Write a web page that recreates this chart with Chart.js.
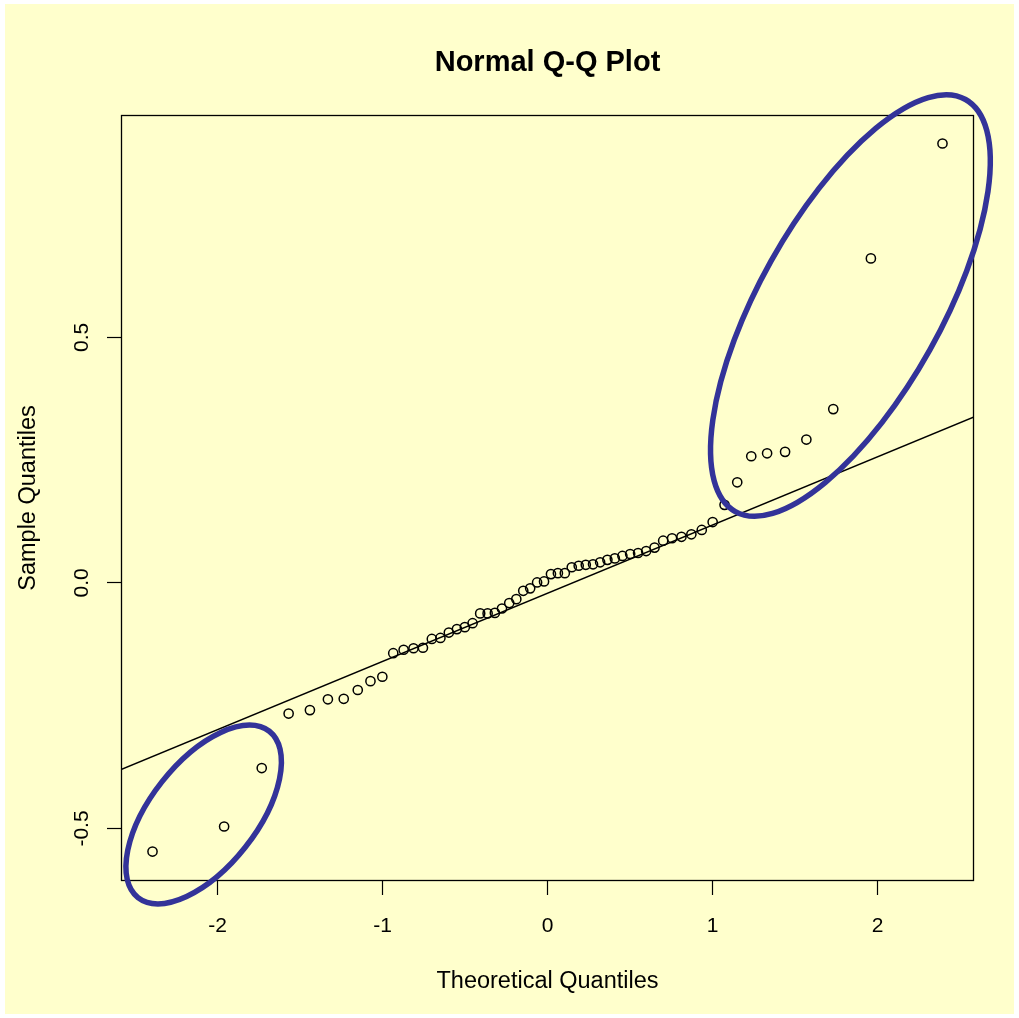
<!DOCTYPE html>
<html><head><meta charset="utf-8">
<script src="https://cdn.jsdelivr.net/npm/chart.js@4.4.1/dist/chart.umd.min.js"></script>
<style>html,body{margin:0;padding:0;background:#fff;}canvas{display:block;}</style>
</head><body>
<canvas id="c" width="1019" height="1018"></canvas>
<script>
// ---- data ----
const theoreticalQuantiles = [-2.394,-1.960,-1.732,-1.569,-1.440,-1.331,-1.235,-1.150,-1.073,-1.001,
  -0.935,-0.872,-0.812,-0.755,-0.701,-0.649,-0.598,-0.549,-0.501,-0.454,
  -0.408,-0.363,-0.319,-0.276,-0.232,-0.189,-0.147,-0.105,-0.063,-0.021,
  0.021,0.063,0.105,0.147,0.189,0.232,0.276,0.319,0.363,0.408,
  0.454,0.501,0.549,0.598,0.649,0.701,0.755,0.812,0.872,0.935,
  1.001,1.073,1.150,1.235,1.331,1.440,1.569,1.732,1.960,2.394];
const sampleQuantiles = [-0.547,-0.496,-0.377,-0.266,-0.259,-0.237,-0.236,-0.218,-0.200,-0.191,
  -0.143,-0.136,-0.133,-0.132,-0.114,-0.112,-0.101,-0.094,-0.090,-0.082,
  -0.062,-0.062,-0.061,-0.052,-0.041,-0.033,-0.016,-0.011,0.001,0.003,
  0.018,0.020,0.020,0.032,0.035,0.037,0.038,0.042,0.047,0.050,
  0.055,0.059,0.061,0.065,0.072,0.086,0.091,0.094,0.099,0.108,
  0.124,0.159,0.205,0.258,0.264,0.267,0.292,0.354,0.661,0.895];
const qqLineX = [-2.585, 2.585];
const qqLineY = [-0.380, 0.338];
const xTickValues = [-2, -1, 0, 1, 2];
const xTickLabels = ['-2', '-1', '0', '1', '2'];
const yTickValues = [-0.5, 0, 0.5];
const yTickLabels = ['-0.5', '0.0', '0.5'];
const xRange = [-2.585, 2.585];
const yRange = [-0.607, 0.953];
const chartTitle = 'Normal Q-Q Plot';
const xTitle = 'Theoretical Quantiles';
const yTitle = 'Sample Quantiles';

// ---- plugins ----
const FONT = 'Liberation Sans';
const bgPlugin = {
  id: 'bg',
  beforeDraw(chart) {
    const c = chart.ctx; c.save();
    c.fillStyle = '#ffffff'; c.fillRect(0, 0, chart.width, chart.height);
    c.fillStyle = '#FFFFCC'; c.fillRect(5, 4, 1009, 1010);
    c.restore();
  }
};
const boxPlugin = {
  id: 'box',
  beforeDatasetsDraw(chart) {
    const {left, top, right, bottom} = chart.chartArea;
    const c = chart.ctx; c.save();
    c.strokeStyle = '#000'; c.lineWidth = 1.3;
    c.strokeRect(left + 0.5, top + 0.5, right - left - 1, bottom - top - 1);
    c.restore();
  }
};
const ellipsePlugin = {
  id: 'ellipses',
  afterDraw(chart, args, opts) {
    const c = chart.ctx, xs = chart.scales.x, ys = chart.scales.y;
    c.save();
    c.strokeStyle = opts.color; c.lineWidth = opts.width;
    for (const e of opts.items) {
      c.beginPath();
      c.ellipse(xs.getPixelForValue(e.cx), ys.getPixelForValue(e.cy), e.rx, e.ry, e.angle * Math.PI / 180, 0, Math.PI * 2);
      c.stroke();
    }
    c.restore();
  }
};

const tickFont = {family: FONT, size: 21};
const labFont = {family: FONT, size: 23.5};

new Chart(document.getElementById('c').getContext('2d'), {
  type: 'scatter',
  data: {
    datasets: [
      {
        type: 'line', showLine: true,
        data: qqLineX.map((x, i) => ({x: x, y: qqLineY[i]})),
        borderColor: '#000', borderWidth: 1.4, pointRadius: 0, fill: false, order: 2
      },
      {
        data: theoreticalQuantiles.map((x, i) => ({x: x, y: sampleQuantiles[i]})),
        pointRadius: 4.6, pointBorderWidth: 1.5, borderColor: '#000',
        backgroundColor: 'rgba(0,0,0,0)', pointHoverRadius: 4.6, order: 1
      }
    ]
  },
  options: {
    responsive: false, animation: false, devicePixelRatio: 1,
    layout: {padding: {left: 0, right: 45, top: 0, bottom: 0}},
    plugins: {
      legend: {display: false}, tooltip: {enabled: false},
      title: {
        display: true, text: chartTitle, fullSize: false, color: '#000',
        font: {family: FONT, size: 29, weight: 'bold'},
        padding: {top: 45.6, bottom: 34.6}
      },
      ellipses: {
        color: '#333399', width: 5.5,
        items: [
          {cx: -2.084, cy: -0.4715, rx: 106, ry: 53, angle: -51.7},
          {cx: 1.836, cy: 0.565, rx: 236, ry: 91, angle: -60.8}
        ]
      }
    },
    scales: {
      x: {
        type: 'linear', position: 'bottom', min: xRange[0], max: xRange[1], bounds: 'data',
        afterBuildTicks(s) { s.ticks = xTickValues.map(v => ({value: v})); },
        afterFit(s) { s.height = 137; },
        grid: {drawOnChartArea: false, drawTicks: true, tickLength: 14, tickColor: '#000', tickWidth: 1.2},
        border: {display: false},
        ticks: {
          autoSkip: false, maxRotation: 0, color: '#000', font: tickFont, padding: 19,
          callback: (v) => { const i = xTickValues.indexOf(v); return i >= 0 ? xTickLabels[i] : ''; }
        },
        title: {display: true, text: xTitle, color: '#000', font: labFont, padding: 22}
      },
      y: {
        type: 'linear', position: 'left', min: yRange[0], max: yRange[1], bounds: 'data',
        afterBuildTicks(s) { s.ticks = yTickValues.map(v => ({value: v})); },
        afterFit(s) { s.width = 121; },
        grid: {drawOnChartArea: false, drawTicks: true, tickLength: 14, tickColor: '#000', tickWidth: 1.2},
        border: {display: false},
        ticks: {
          autoSkip: false, minRotation: 90, maxRotation: 90, crossAlign: 'center',
          color: '#000', font: tickFont, padding: 7,
          callback: (v) => { const i = yTickValues.indexOf(v); return i >= 0 ? yTickLabels[i] : ''; }
        },
        title: {display: true, text: yTitle, color: '#000', font: labFont, padding: 14}
      }
    }
  },
  plugins: [bgPlugin, boxPlugin, ellipsePlugin]
});
</script>
</body></html>
